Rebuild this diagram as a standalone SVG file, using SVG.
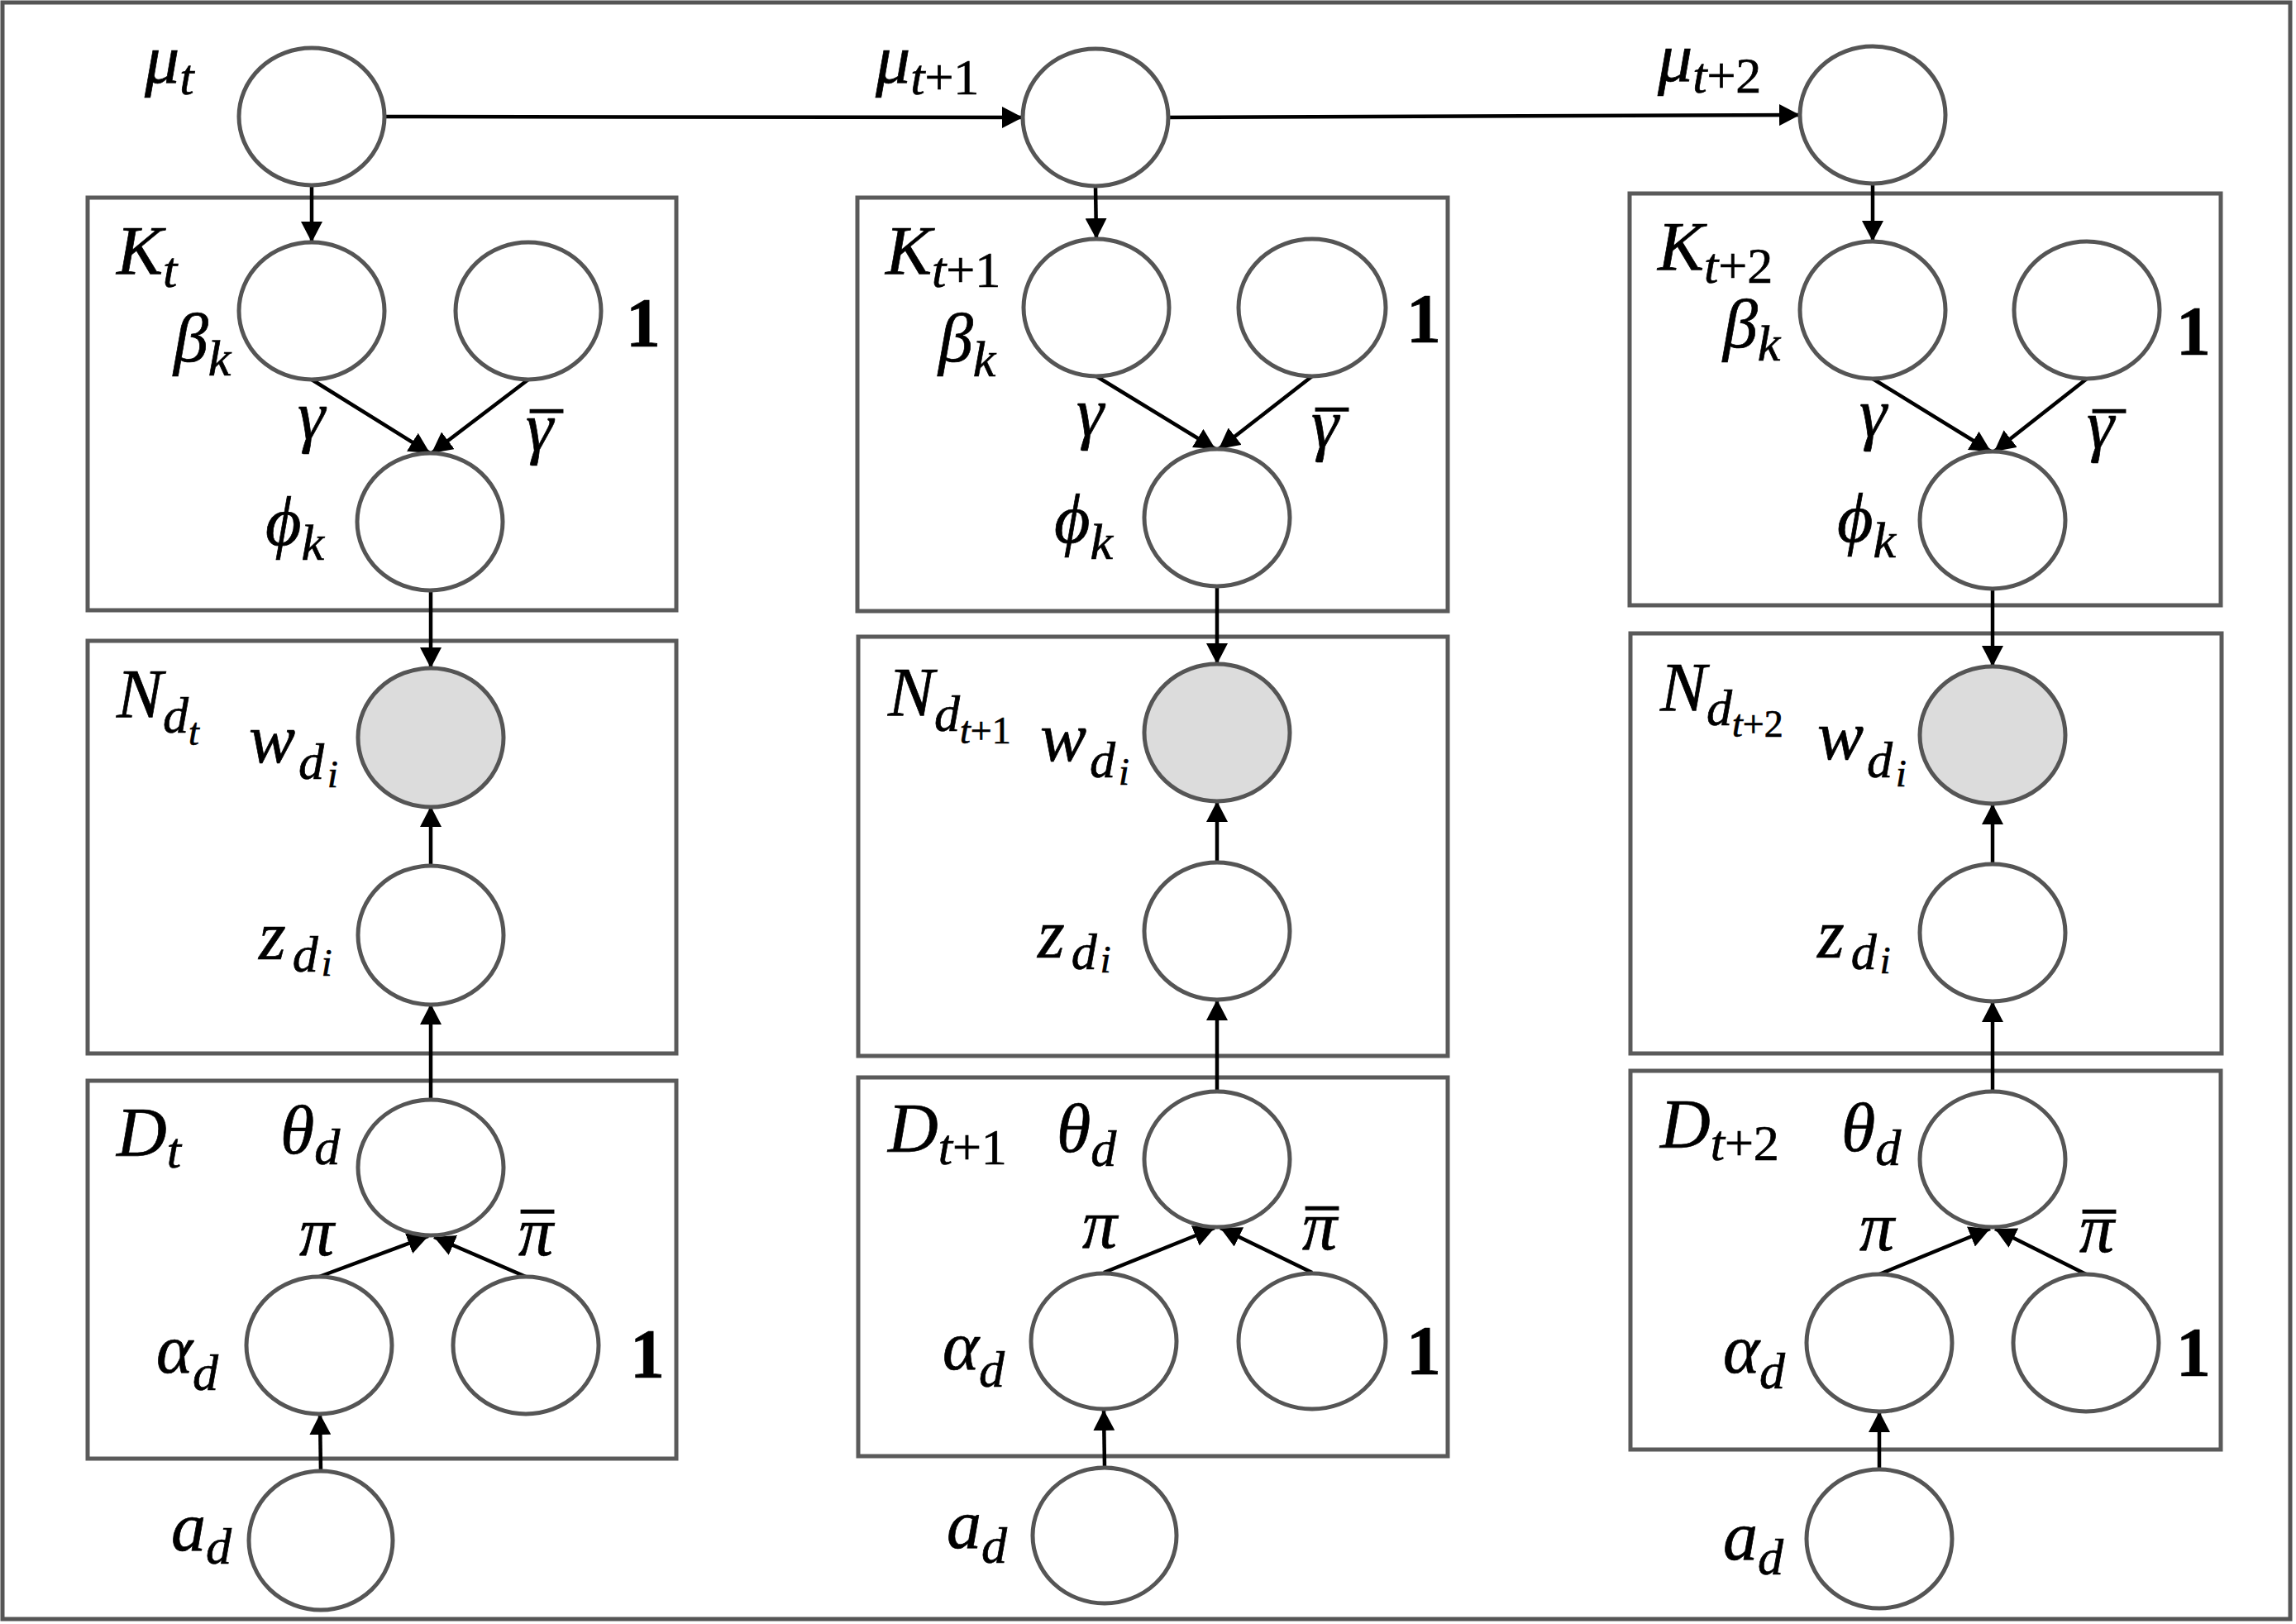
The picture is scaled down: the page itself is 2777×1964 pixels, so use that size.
<svg xmlns="http://www.w3.org/2000/svg" width="2777" height="1964" viewBox="0 0 2777 1964">
<defs>
<marker id="ah" markerUnits="userSpaceOnUse" markerWidth="26" markerHeight="26" refX="25" refY="13" orient="auto">
<path d="M0,0 L25,13 L0,26 z" fill="#000"/>
</marker>
</defs>
<style>
.frame{fill:none;stroke:#555;stroke-width:5}
.plate{fill:none;stroke:#5a5a5a;stroke-width:5}
.node{fill:#fff;stroke:#555;stroke-width:5}
.obs{fill:#dcdcdc;stroke:#555;stroke-width:5}
.edge{fill:none;stroke:#000;stroke-width:4.5;marker-end:url(#ah)}
text{font-family:"Liberation Serif","DejaVu Serif",serif;fill:#000;stroke:#000;stroke-width:0.7}
.m{font-style:italic;font-size:84px}
.s{font-style:italic;font-size:62px}
.ss{font-style:italic;font-size:46px}
.up{font-style:normal}
.bar{font-style:normal;font-size:76px;stroke-width:1.6}
.one{font-weight:bold;font-size:84px;font-style:normal}
</style>
<rect x="0" y="0" width="2777" height="1964" fill="#fff"/>
<rect class="frame" x="3" y="3" width="2767" height="1955"/>

<!-- plates -->
<g id="plate-K-t"><rect class="plate" x="106" y="239" width="712" height="499"/>
<text class="m" x="141" y="332">K<tspan class="s" dy="15">t</tspan></text></g>
<g id="plate-N-t"><rect class="plate" x="106" y="775" width="712" height="499"/>
<text class="m" x="141" y="868">N<tspan class="s" dy="18">d</tspan><tspan class="ss" dy="15">t</tspan></text></g>
<g id="plate-D-t"><rect class="plate" x="106" y="1307" width="712" height="457"/>
<text class="m" x="141" y="1398">D<tspan class="s" dy="14">t</tspan></text></g>

<g id="plate-K-t1"><rect class="plate" x="1037" y="239" width="714" height="500"/>
<text class="m" x="1071" y="332">K<tspan class="s" dy="15">t</tspan><tspan class="s up">+1</tspan></text></g>
<g id="plate-N-t1"><rect class="plate" x="1038" y="770" width="713" height="507"/>
<text class="m" x="1074" y="866">N<tspan class="s" dy="18">d</tspan><tspan class="ss" dy="15">t</tspan><tspan class="ss up">+1</tspan></text></g>
<g id="plate-D-t1"><rect class="plate" x="1038" y="1303" width="713" height="458"/>
<text class="m" x="1074" y="1393">D<tspan class="s" dy="15">t</tspan><tspan class="s up">+1</tspan></text></g>

<g id="plate-K-t2"><rect class="plate" x="1971" y="234" width="715" height="498"/>
<text class="m" x="2005" y="327">K<tspan class="s" dy="15">t</tspan><tspan class="s up">+2</tspan></text></g>
<g id="plate-N-t2"><rect class="plate" x="1972" y="766" width="715" height="508"/>
<text class="m" x="2008" y="860">N<tspan class="s" dy="17">d</tspan><tspan class="ss" dy="14">t</tspan><tspan class="ss up">+2</tspan></text></g>
<g id="plate-D-t2"><rect class="plate" x="1972" y="1295" width="714" height="458"/>
<text class="m" x="2008" y="1388">D<tspan class="s" dy="15">t</tspan><tspan class="s up">+2</tspan></text></g>

<!-- connectors -->
<g id="connectors">
<path class="edge" d="M465,141 L1237,142"/>
<path class="edge" d="M1413,142 L2177,139"/>
<path class="edge" d="M377,224 L377,293"/>
<path class="edge" d="M1325,225 L1326,289"/>
<path class="edge" d="M2265,222 L2265,292"/>
<path class="edge" d="M377,459 L520,548"/>
<path class="edge" d="M639,459 L522,548"/>
<path class="edge" d="M1326,455 L1470,543"/>
<path class="edge" d="M1587,455 L1474,543"/>
<path class="edge" d="M2265,458 L2408,546"/>
<path class="edge" d="M2524,458 L2412,546"/>
<path class="edge" d="M521,715 L521,808"/>
<path class="edge" d="M1472,709 L1472,803"/>
<path class="edge" d="M2410,712 L2410,806"/>
<path class="edge" d="M521,1048 L521,975"/>
<path class="edge" d="M1472,1043 L1472,969"/>
<path class="edge" d="M2410,1045 L2410,972"/>
<path class="edge" d="M521,1330 L521,1214"/>
<path class="edge" d="M1472,1320 L1472,1209"/>
<path class="edge" d="M2410,1320 L2410,1211"/>
<path class="edge" d="M386,1544 L518,1495"/>
<path class="edge" d="M636,1544 L525,1496"/>
<path class="edge" d="M1335,1539 L1469,1485"/>
<path class="edge" d="M1587,1539 L1476,1485"/>
<path class="edge" d="M2273,1541 L2407,1486"/>
<path class="edge" d="M2523,1541 L2413,1486"/>
<path class="edge" d="M388,1780 L387,1710"/>
<path class="edge" d="M1336,1774 L1335,1705"/>
<path class="edge" d="M2273,1777 L2273,1707"/>
<text class="m" x="360" y="531">γ</text>
<text class="m" x="1302" y="527">γ</text>
<text class="m" x="2249" y="528">γ</text>
<text class="m" x="636" y="545">γ<tspan class="bar" x="642" y="553">¯</tspan></text>
<text class="m" x="1586" y="541">γ<tspan class="bar" x="1592" y="551">¯</tspan></text>
<text class="m" x="2524" y="542">γ<tspan class="bar" x="2532" y="553">¯</tspan></text>
<text class="m" x="362" y="1518">π</text>
<text class="m" x="1309" y="1509">π</text>
<text class="m" x="2249" y="1512">π</text>
<text class="m" x="627" y="1518">π<tspan class="bar" x="631" y="1521">¯</tspan></text>
<text class="m" x="1575" y="1511">π<tspan class="bar" x="1580" y="1517">¯</tspan></text>
<text class="m" x="2515" y="1514">π<tspan class="bar" x="2520" y="1521">¯</tspan></text>
</g>

<!-- column t -->
<g id="mu-t"><ellipse class="node" cx="377" cy="141" rx="88" ry="83"/>
<text class="m" x="175" y="100">μ<tspan class="s" dy="14">t</tspan></text></g>
<g id="beta-t"><ellipse class="node" cx="377" cy="376" rx="88" ry="83"/>
<text class="m" x="210" y="437">β<tspan class="s" dy="17">k</tspan></text></g>
<g id="one-K-t"><ellipse class="node" cx="639" cy="376" rx="88" ry="83"/>
<text class="one" x="757" y="419">1</text></g>
<g id="phi-t"><ellipse class="node" cx="520" cy="631" rx="88" ry="83"/>
<text class="m" x="321" y="659">ϕ<tspan class="s" dy="18">k</tspan></text></g>
<g id="w-t"><ellipse class="obs" cx="521" cy="892" rx="88" ry="84"/>
<text class="m" x="301" y="922">w<tspan class="s" dx="4" dy="20">d</tspan><tspan class="ss" dx="4" dy="10">i</tspan></text></g>
<g id="z-t"><ellipse class="node" cx="521" cy="1131" rx="88" ry="84"/>
<text class="m" x="313" y="1160">z<tspan class="s" dx="8" dy="15">d</tspan><tspan class="ss" dx="4" dy="5">i</tspan></text></g>
<g id="theta-t"><ellipse class="node" cx="521" cy="1412" rx="88" ry="82"/>
<text class="m" x="339" y="1395">θ<tspan class="s" dy="13">d</tspan></text></g>
<g id="alpha-t"><ellipse class="node" cx="386" cy="1627" rx="88" ry="83"/>
<text class="m" x="189" y="1660">α<tspan class="s" dy="21">d</tspan></text></g>
<g id="one-D-t"><ellipse class="node" cx="636" cy="1627" rx="88" ry="83"/>
<text class="one" x="762" y="1666">1</text></g>
<g id="a-t"><ellipse class="node" cx="388" cy="1863" rx="87" ry="84"/>
<text class="m" x="207" y="1875">a<tspan class="s" dy="16">d</tspan></text></g>

<!-- column t+1 -->
<g id="mu-t1"><ellipse class="node" cx="1325" cy="142" rx="88" ry="83"/>
<text class="m" x="1059" y="100">μ<tspan class="s" dy="14">t</tspan><tspan class="s up">+1</tspan></text></g>
<g id="beta-t1"><ellipse class="node" cx="1326" cy="372" rx="88" ry="83"/>
<text class="m" x="1135" y="437">β<tspan class="s" dy="18">k</tspan></text></g>
<g id="one-K-t1"><ellipse class="node" cx="1587" cy="372" rx="89" ry="83"/>
<text class="one" x="1701" y="414">1</text></g>
<g id="phi-t1"><ellipse class="node" cx="1472" cy="626" rx="88" ry="83"/>
<text class="m" x="1275" y="656">ϕ<tspan class="s" dy="20">k</tspan></text></g>
<g id="w-t1"><ellipse class="obs" cx="1472" cy="886" rx="88" ry="83"/>
<text class="m" x="1258" y="920">w<tspan class="s" dx="4" dy="20">d</tspan><tspan class="ss" dx="4" dy="9">i</tspan></text></g>
<g id="z-t1"><ellipse class="node" cx="1472" cy="1126" rx="88" ry="83"/>
<text class="m" x="1255" y="1158">z<tspan class="s" dx="8" dy="14">d</tspan><tspan class="ss" dx="4" dy="4">i</tspan></text></g>
<g id="theta-t1"><ellipse class="node" cx="1472" cy="1402" rx="88" ry="82"/>
<text class="m" x="1278" y="1393">θ<tspan class="s" dy="17">d</tspan></text></g>
<g id="alpha-t1"><ellipse class="node" cx="1335" cy="1622" rx="88" ry="82"/>
<text class="m" x="1140" y="1656">α<tspan class="s" dy="21">d</tspan></text></g>
<g id="one-D-t1"><ellipse class="node" cx="1587" cy="1622" rx="89" ry="82"/>
<text class="one" x="1701" y="1662">1</text></g>
<g id="a-t1"><ellipse class="node" cx="1336" cy="1857" rx="87" ry="82"/>
<text class="m" x="1145" y="1872">a<tspan class="s" dy="18">d</tspan></text></g>

<!-- column t+2 -->
<g id="mu-t2"><ellipse class="node" cx="2265" cy="139" rx="88" ry="83"/>
<text class="m" x="2005" y="98">μ<tspan class="s" dy="14">t</tspan><tspan class="s up">+2</tspan></text></g>
<g id="beta-t2"><ellipse class="node" cx="2265" cy="375" rx="88" ry="83"/>
<text class="m" x="2084" y="420">β<tspan class="s" dy="16">k</tspan></text></g>
<g id="one-K-t2"><ellipse class="node" cx="2524" cy="375" rx="88" ry="83"/>
<text class="one" x="2632" y="429">1</text></g>
<g id="phi-t2"><ellipse class="node" cx="2410" cy="629" rx="88" ry="83"/>
<text class="m" x="2222" y="655">ϕ<tspan class="s" dy="19">k</tspan></text></g>
<g id="w-t2"><ellipse class="obs" cx="2410" cy="889" rx="88" ry="83"/>
<text class="m" x="2198" y="918">w<tspan class="s" dx="4" dy="22">d</tspan><tspan class="ss" dx="4" dy="11">i</tspan></text></g>
<g id="z-t2"><ellipse class="node" cx="2410" cy="1128" rx="88" ry="83"/>
<text class="m" x="2198" y="1158">z<tspan class="s" dx="8" dy="14">d</tspan><tspan class="ss" dx="4" dy="5">i</tspan></text></g>
<g id="theta-t2"><ellipse class="node" cx="2410" cy="1402" rx="88" ry="82"/>
<text class="m" x="2227" y="1392">θ<tspan class="s" dy="17">d</tspan></text></g>
<g id="alpha-t2"><ellipse class="node" cx="2273" cy="1624" rx="88" ry="83"/>
<text class="m" x="2084" y="1660">α<tspan class="s" dy="19">d</tspan></text></g>
<g id="one-D-t2"><ellipse class="node" cx="2523" cy="1624" rx="88" ry="83"/>
<text class="one" x="2632" y="1664">1</text></g>
<g id="a-t2"><ellipse class="node" cx="2273" cy="1861" rx="88" ry="84"/>
<text class="m" x="2084" y="1886">a<tspan class="s" dy="18">d</tspan></text></g>
</svg>
